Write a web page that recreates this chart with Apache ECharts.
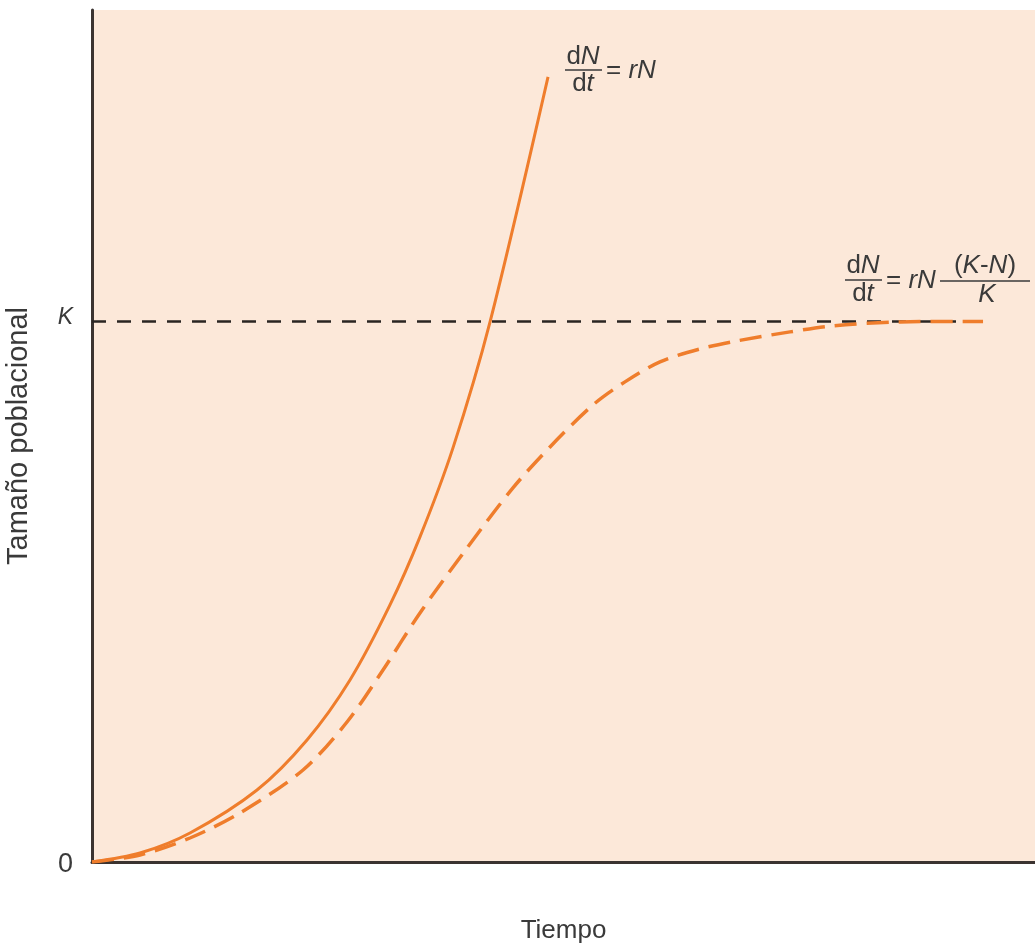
<!DOCTYPE html>
<html><head><meta charset="utf-8">
<script src="https://cdn.jsdelivr.net/npm/echarts@6/dist/echarts.min.js"></script>
<style>html,body{margin:0;padding:0;background:#fff}#c{width:1035px;height:947px}</style>
</head><body><div id="c"></div>
<script>
// Time (0-100) and population size (K = 100)
const K = 100;
const expT = [0, 5.09, 10.39, 17.50, 22.80, 27.36, 31.60, 34.78, 38.28, 42.21, 48.36];
const expN = [0, 1.67, 5.37, 13.32, 22.57, 33.67, 47.55, 60.13, 76.60, 99.91, 145.24];
const logT = [0, 5.09, 10.39, 15.69, 22.38, 27.04, 30.86, 34.78, 39.77, 44.64, 48.57, 53.13, 56.52, 60.23, 64.48, 68.40, 74.02, 78.58, 85.68, 94.49];
const logN = [0, 1.30, 4.44, 9.07, 17.02, 25.90, 35.52, 46.07, 58.09, 69.20, 76.78, 84.55, 88.81, 92.51, 94.91, 96.39, 98.06, 99.17, 99.91, 100];
const kLineT = [0, 94.49];
const xName = 'Tiempo';
const yName = 'Tamaño poblacional';

const zip = (a, b) => a.map((v, i) => [v, b[i]]);
const ORANGE = '#ef7d2c';
const TXT = '#3a3a3a';
const FONT = '"Liberation Sans", Arial, sans-serif';

const chart = echarts.init(document.getElementById('c'), null, {renderer: 'canvas'});
const rich = {
  n: {fontFamily: FONT, fontSize: 26, color: TXT},
  i: {fontFamily: FONT, fontSize: 26, color: TXT, fontStyle: 'italic'}
};
function txt(x, y, text, align) {
  return {type: 'text', x: x, y: y, z: 10,
    style: {text: text, rich: rich, fontFamily: FONT, fontSize: 26, fill: TXT,
      align: align || 'center', verticalAlign: 'middle'}};
}
function bar(x1, x2, y) {
  return {type: 'line', z: 10, shape: {x1: x1, y1: y, x2: x2, y2: y},
    style: {stroke: TXT, lineWidth: 1.5}};
}

chart.setOption({
  animation: false,
  backgroundColor: '#ffffff',
  grid: {left: 92, right: 0, top: 10, bottom: 85, show: true, outerBoundsMode: 'none',
    containLabel: false, backgroundColor: '#fce8d9', borderWidth: 0},
  xAxis: {type: 'value', min: 0, max: 100,
    name: xName, nameLocation: 'middle', nameGap: 56,
    nameTextStyle: {fontFamily: FONT, fontSize: 26, color: TXT},
    axisLine: {show: true, lineStyle: {color: '#3b3330', width: 3}},
    axisTick: {show: false}, axisLabel: {show: false}, splitLine: {show: false}},
  yAxis: {type: 'value', min: 0, max: 157.6, interval: 100,
    name: yName, nameLocation: 'middle', nameGap: 59, nameRotate: 90,
    nameTextStyle: {fontFamily: FONT, fontSize: 29, color: TXT},
    axisLine: {show: true, lineStyle: {color: '#3b3330', width: 3}},
    axisTick: {show: false}, splitLine: {show: false},
    axisLabel: {show: true, margin: 19, showMaxLabel: false,
      fontFamily: FONT, fontSize: 26, color: TXT,
      formatter: v => v === 0 ? '{z|0}' : (v === K ? '{i|K}' : ''),
      rich: {
        z: {fontFamily: FONT, fontSize: 27, color: TXT, padding: [6, 0, 0, 0]},
        i: {fontFamily: FONT, fontSize: 23, color: TXT, fontStyle: 'italic', padding: [0, 0, 8, 0]}
      }}},
  series: [
    {type: 'line', data: zip(kLineT, [K, K]), symbol: 'none', z: 2,
      lineStyle: {color: '#2a2522', width: 2.5, type: [14, 11]}},
    {type: 'line', data: zip(logT, logN), symbol: 'none', smooth: 0.3, z: 3,
      lineStyle: {color: ORANGE, width: 3.5, type: [22, 10]}},
    {type: 'line', data: zip(expT, expN), symbol: 'none', smooth: 0.3, z: 4,
      lineStyle: {color: ORANGE, width: 3}}
  ],
  graphic: [
    txt(583, 57, '{n|d}{i|N}'), bar(565, 602, 70), txt(583, 84, '{n|d}{i|t}'),
    txt(606, 71, '{n|= }{i|rN}', 'left'),
    txt(863, 266, '{n|d}{i|N}'), bar(845, 882, 280), txt(863, 294, '{n|d}{i|t}'),
    txt(886, 281, '{n|= }{i|rN}', 'left'),
    txt(985, 266, '{n|(}{i|K}{n|-}{i|N}{n|)}'), bar(940, 1030, 281), txt(987, 295, '{i|K}')
  ]
});
</script></body></html>
